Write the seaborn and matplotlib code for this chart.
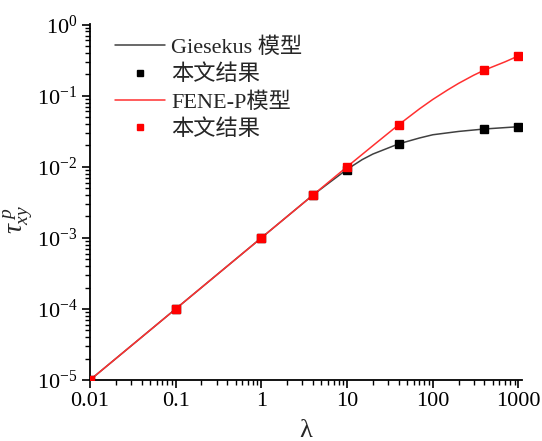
import numpy as np
import pandas as pd
import matplotlib
matplotlib.use("Agg")
import matplotlib.pyplot as plt
import seaborn as sns
from matplotlib.ticker import LogLocator, FixedLocator, FixedFormatter, NullFormatter
from matplotlib.lines import Line2D

# ---- data ----
gies_line_x = [0.01, 0.1, 1, 4, 6, 10, 15, 20, 40, 70, 100, 200, 400, 1000]
gies_line_y = [1e-5, 1e-4, 1e-3, 4e-3, 5.8e-3, 9.2e-3, 0.0126, 0.0151, 0.021, 0.0254, 0.0282, 0.0314, 0.034, 0.0366]
fene_line_x = [0.01, 0.1, 1, 4, 10, 20, 40, 70, 100, 150, 200, 300, 400, 700, 1000]
fene_line_y = [1e-5, 1e-4, 1e-3, 4e-3, 1.0e-2, 0.0198, 0.039, 0.0653, 0.0885, 0.121, 0.149, 0.194, 0.229, 0.300, 0.363]
gies_pts_x = [0.01, 0.1, 1, 4, 10, 40, 400, 1000]
gies_pts_y = [1e-5, 1e-4, 1e-3, 4e-3, 9.0e-3, 0.021, 0.034, 0.0366]
fene_pts_x = [0.01, 0.1, 1, 4, 10, 40, 400, 1000]
fene_pts_y = [1e-5, 1e-4, 1e-3, 4e-3, 1.0e-2, 0.039, 0.229, 0.363]
x_ticks = [0.01, 0.1, 1, 10, 100, 1000]
x_tick_labels = ["0.01", "0.1", "1", "10", "100", "1000"]
legend_labels = ["Giesekus 模型", "本文结果", "FENE-P模型", "本文结果"]

sns.set_style("ticks")
plt.rcParams['font.family'] = ['Liberation Serif', 'Noto Sans CJK SC', 'DejaVu Sans']
plt.rcParams['mathtext.fontset'] = 'custom'
plt.rcParams['mathtext.rm'] = 'Liberation Serif'
plt.rcParams['mathtext.it'] = 'Liberation Serif:italic'

fig = plt.figure(figsize=(5.42, 4.41), dpi=100)
ax = fig.add_axes([90/542, 1-380/441, (522-90)/542, (380-24)/441])

gray = "#404040"
red = "#ff3030"

sns.lineplot(x=gies_line_x, y=gies_line_y, ax=ax, color=gray, linewidth=1.1, estimator=None, sort=False)
sns.lineplot(x=fene_line_x, y=fene_line_y, ax=ax, color=red, linewidth=1.1, estimator=None, sort=False)
ax.plot(gies_pts_x, gies_pts_y, linestyle='none', marker='s', markersize=5.3, color='black', zorder=5)
ax.plot(fene_pts_x, fene_pts_y, linestyle='none', marker='s', markersize=5.3, color='#ff0000', zorder=6)

ax.set_xscale('log')
ax.set_yscale('log')
ax.set_xlim(0.01, 1100)
ax.set_ylim(1e-5, 1.02)

ax.xaxis.set_major_locator(FixedLocator(x_ticks))
ax.xaxis.set_major_formatter(FixedFormatter(x_tick_labels))
ax.xaxis.set_minor_locator(LogLocator(base=10, subs=np.arange(2, 10)))
ax.xaxis.set_minor_formatter(NullFormatter())
ax.yaxis.set_major_locator(LogLocator(base=10, numticks=10))
ax.yaxis.set_minor_locator(LogLocator(base=10, subs=np.arange(2, 10), numticks=10))
ax.yaxis.set_minor_formatter(NullFormatter())

ax.tick_params(axis='both', which='major', direction='out', length=6, width=1.2, labelsize=16, color='black', labelcolor='black', pad=3)
ax.tick_params(axis='both', which='minor', direction='out', length=3.5, width=1.0, color='black')
for s in ['top', 'right']:
    ax.spines[s].set_visible(False)
for s in ['left', 'bottom']:
    ax.spines[s].set_linewidth(1.3)
    ax.spines[s].set_color('black')

ax.set_xlabel("λ", fontsize=19, labelpad=6)
ax.set_ylabel(r"$\tau_{xy}^{\ p}$", fontsize=20)
ax.yaxis.set_label_coords(-0.127, 0.45)

handles = [
    Line2D([], [], color=gray, linewidth=1.1),
    Line2D([], [], color='black', marker='s', linestyle='none', markersize=4),
    Line2D([], [], color=red, linewidth=1.1),
    Line2D([], [], color='#ff0000', marker='s', linestyle='none', markersize=4),
]
ax.legend(handles, legend_labels, loc='upper left', bbox_to_anchor=(0.058, 0.962), frameon=False,
          fontsize=16, handlelength=2.25, handletextpad=0.28, labelspacing=0.3,
          borderpad=0, borderaxespad=0)

fig.savefig("out.png", dpi=100)
